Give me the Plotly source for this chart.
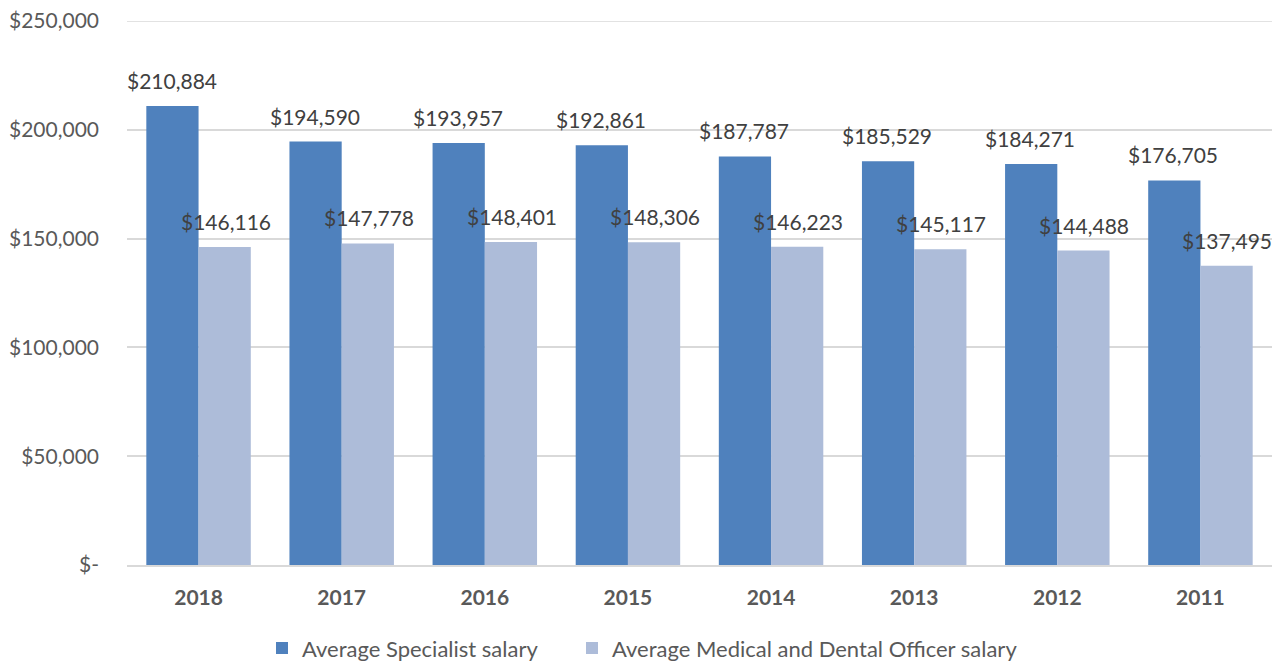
import plotly.graph_objects as go

years = ["2018", "2017", "2016", "2015", "2014", "2013", "2012", "2011"]
specialist = [210884, 194590, 193957, 192861, 187787, 185529, 184271, 176705]
officer = [146116, 147778, 148401, 148306, 146223, 145117, 144488, 137495]
tick_vals = [0, 50000, 100000, 150000, 200000, 250000]
tick_text = ["$-", "$50,000", "$100,000", "$150,000", "$200,000", "$250,000"]

FONT = "Lato, Open Sans, sans-serif"
TXT = "#595959"
LBL = "#404040"
GRID = "#D9D9D9"

fig = go.Figure()
fig.add_trace(go.Bar(
    name="Average Specialist salary", x=years, y=specialist,
    marker=dict(color="#4F81BD", line=dict(width=0)), legend="legend",
    showlegend=True,
))
fig.add_trace(go.Bar(
    name="Average Medical and Dental Officer salary", x=years, y=officer,
    marker=dict(color="#ADBCD9", line=dict(width=0)), legend="legend2",
    showlegend=True,
))

ann = []
for series, dx in ((specialist, -27), (officer, 27)):
    for i, v in enumerate(series):
        ann.append(dict(x=i, y=v, text=f"${v:,}", showarrow=False,
                        xanchor="center", yanchor="bottom", xshift=dx, yshift=11,
                        font=dict(family=FONT, size=21, color=LBL)))

leg_common = dict(orientation="h", xref="container", xanchor="left",
                  y=-0.153, yanchor="middle",
                  font=dict(family=FONT, size=22, color=TXT), itemwidth=30,
                  bgcolor="rgba(0,0,0,0)")

fig.update_layout(
    width=1284, height=664,
    showlegend=True,
    margin=dict(l=127, r=12, t=21, b=99, autoexpand=False),
    paper_bgcolor="white", plot_bgcolor="white",
    barmode="group", bargap=0.27, bargroupgap=0,
    font=dict(family=FONT, color=TXT),
    annotations=ann,
    shapes=[dict(type="line", xref="paper", yref="y", x0=0, x1=1,
                 y0=tick_vals[-1], y1=tick_vals[-1],
                 line=dict(color=GRID, width=1.5), layer="below")],
    legend=dict(x=262 / 1284, **leg_common),
    legend2=dict(x=572 / 1284, **leg_common),
    xaxis=dict(type="category", range=[-0.5, len(years) - 0.5],
               tickfont=dict(family=FONT, size=21, color=TXT, weight="bold"),
               showgrid=False, showline=True, linecolor=GRID, linewidth=1.5,
               ticks="", ticklabelstandoff=13, automargin=False),
    yaxis=dict(range=[0, 250000], tickvals=tick_vals, ticktext=tick_text,
               tickfont=dict(family=FONT, size=21, color=TXT),
               showgrid=True, gridcolor=GRID, gridwidth=1.5,
               zeroline=False, showline=False, ticks="", ticklabelstandoff=27,
               automargin=False),
)

fig.write_html("out.html", config={"displayModeBar": False},
               post_script="document.body.style.margin='0';document.body.style.overflow='hidden';")
